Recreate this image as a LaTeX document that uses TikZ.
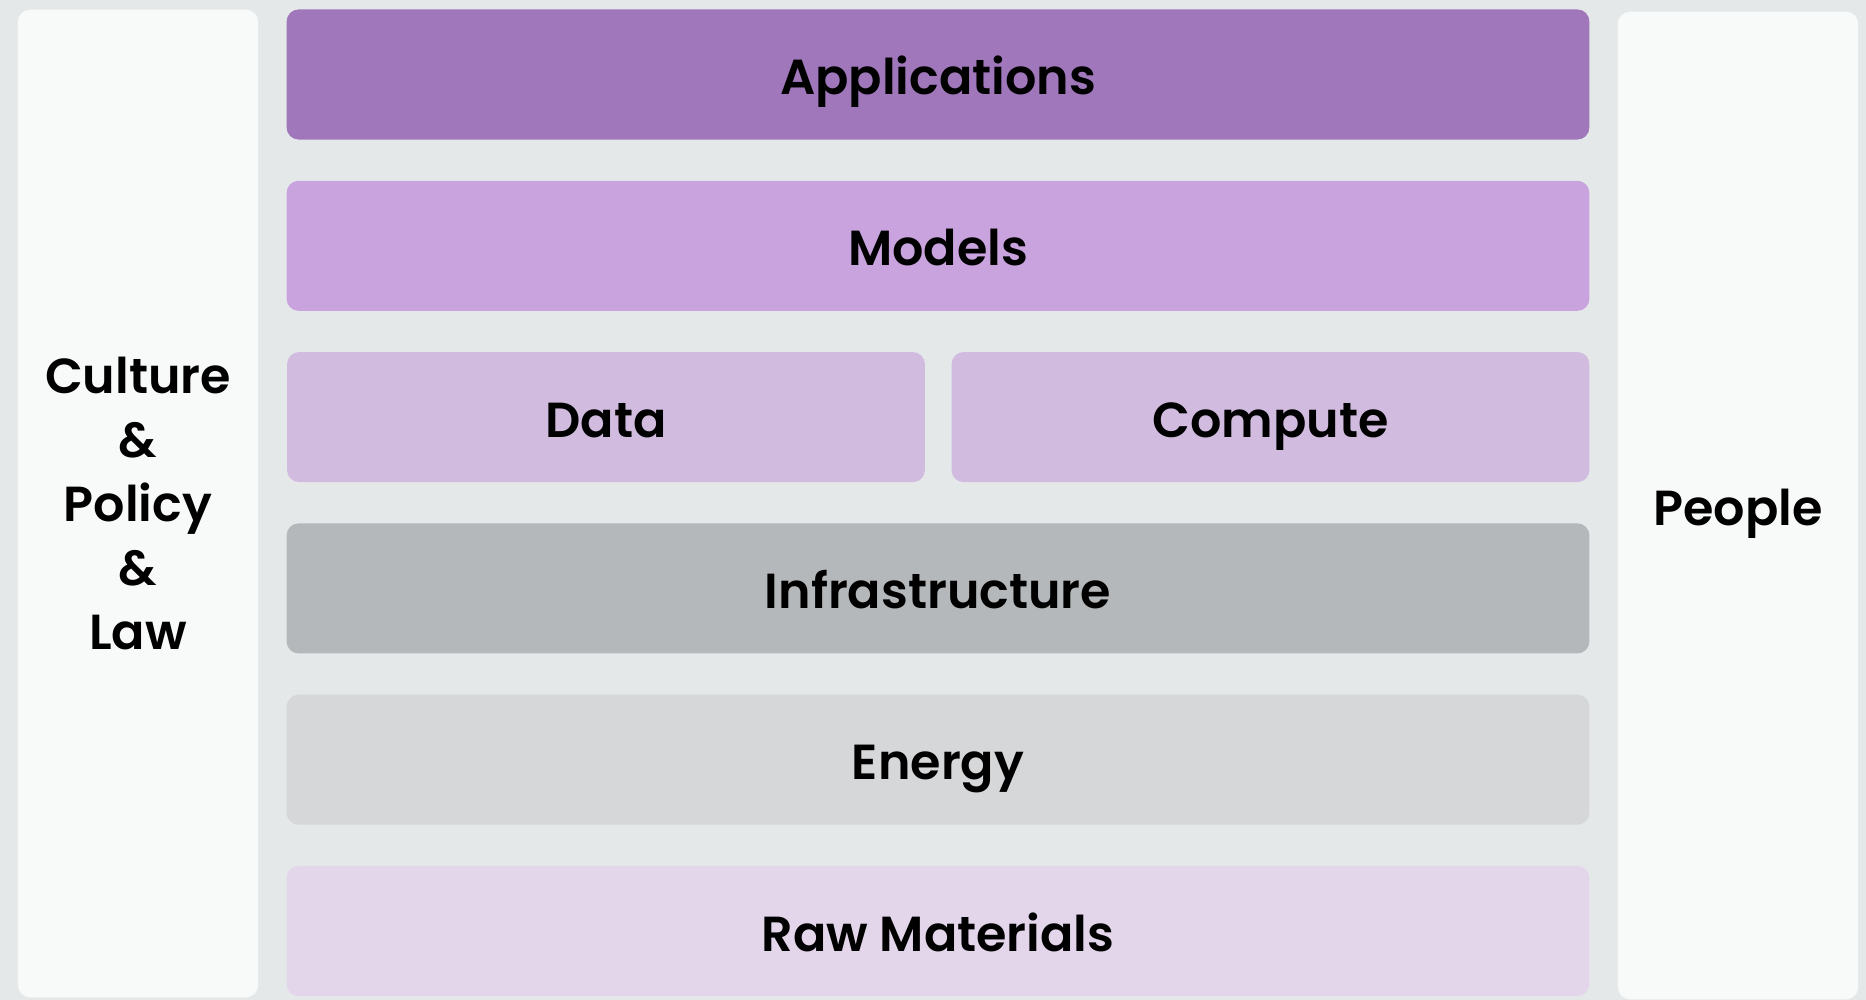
\documentclass[tikz,border=0pt]{standalone}
\usepackage{fontspec}
\newfontfamily\layerfont{Poppins SemiBold}

\definecolor{bgcol}{HTML}{E5E8E9}
\definecolor{sidecol}{HTML}{F8FAFA}
\definecolor{appcol}{HTML}{9F77BA}
\definecolor{modelcol}{HTML}{C8A3DD}
\definecolor{datacol}{HTML}{D1BCE0}
\definecolor{infracol}{HTML}{B5B8BA}
\definecolor{energycol}{HTML}{D6D7D9}
\definecolor{rawcol}{HTML}{E3D5EA}

\tikzset{
  layer/.style={rounded corners=0.12cm, inner sep=0pt, text=black,
    minimum height=1.30cm, font=\layerfont\fontsize{14}{18.2}\selectfont},
  oneline/.style={text height=11.4pt, text depth=0pt},
  fullrow/.style={layer, oneline, minimum width=13.02cm},
  halfrow/.style={fullrow, minimum width=6.375cm},
  sidepanel/.style={layer, fill=sidecol, minimum width=2.40cm,
    minimum height=9.87cm, align=center},
}

\begin{document}
\begin{tikzpicture}[x=0.01cm, y=-0.01cm]
  \def\rowx{938}
  \def\rowgap{171.3}

  % Background
  \fill[bgcol] (0,0) rectangle (1866,1000);
  \useasboundingbox (0,0) rectangle (1866,1000);

  % Side panels
  \node[sidepanel] (culture) at (138,503.5) {Culture\\\&\\Policy\\\&\\Law};
  \node[sidepanel, oneline] (people) at (1738,505.5) {People};

  % Stack of layers
  \node[fullrow, fill=appcol]    (apps)   at (\rowx,74.5) {Applications};
  \node[fullrow, fill=modelcol]  (models) at (\rowx,74.5+\rowgap) {Models};
  \node[halfrow, fill=datacol]   (data)   at (606,74.5+2*\rowgap) {Data};
  \node[halfrow, fill=datacol]   (compute) at (1270.5,74.5+2*\rowgap) {Compute};
  \node[fullrow, fill=infracol]  (infra)  at (\rowx,74.5+3*\rowgap) {Infrastructure};
  \node[fullrow, fill=energycol] (energy) at (\rowx,74.5+4*\rowgap) {Energy};
  \node[fullrow, fill=rawcol]    (raw)    at (\rowx,74.5+5*\rowgap) {Raw Materials};
\end{tikzpicture}
\end{document}
